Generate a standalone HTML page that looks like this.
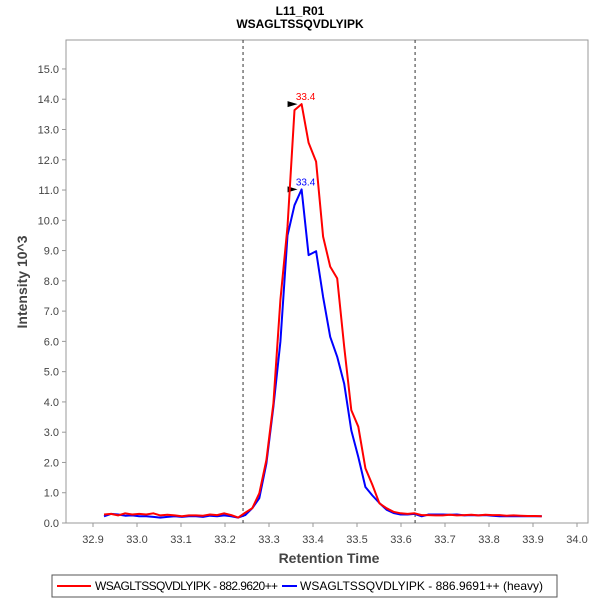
<!DOCTYPE html>
<html><head><meta charset="utf-8"><style>
body{margin:0;background:#fff;font-family:"Liberation Sans",sans-serif}
svg text{font-family:"Liberation Sans",sans-serif}
</style></head><body>
<svg id="c" width="600" height="600">
<text x="300" y="15" text-anchor="middle" font-size="12" font-weight="bold">L11_R01</text>
<text x="300" y="28" text-anchor="middle" font-size="12" font-weight="bold">WSAGLTSSQVDLYIPK</text>
<rect x="66" y="40" width="522" height="483" fill="#fff" stroke="#999"/>
<g id="axes"></g>
<g id="series"></g>
<text x="329" y="563" text-anchor="middle" font-size="14" font-weight="bold" fill="#444">Retention Time</text>
<text transform="translate(27,282) rotate(-90)" text-anchor="middle" font-size="14" font-weight="bold" fill="#444">Intensity 10^3</text>
<g>
<rect x="52" y="575" width="505" height="22" fill="#fff" stroke="#555"/>
<line x1="57" y1="586" x2="91" y2="586" stroke="#f00" stroke-width="2"/>
<text x="95" y="590" font-size="12" textLength="183">WSAGLTSSQVDLYIPK - 882.9620++</text>
<line x1="282" y1="586" x2="297" y2="586" stroke="#00f" stroke-width="2"/>
<text x="300" y="590" font-size="12">WSAGLTSSQVDLYIPK - 886.9691++ (heavy)</text>
</g>
</svg>
<script>
const times=[32.925,32.941,32.957,32.973,32.989,33.005,33.021,33.037,33.053,33.069,33.086,33.102,33.118,33.134,33.150,33.166,33.182,33.198,33.214,33.230,33.246,33.262,33.278,33.294,33.310,33.326,33.342,33.358,33.374,33.390,33.407,33.423,33.439,33.455,33.471,33.487,33.503,33.519,33.535,33.551,33.567,33.583,33.599,33.615,33.631,33.647,33.663,33.679,33.695,33.711,33.727,33.744,33.760,33.776,33.792,33.808,33.824,33.840,33.856,33.872,33.888,33.904,33.920];
const lightValues=[0.28,0.30,0.25,0.32,0.28,0.30,0.28,0.32,0.25,0.27,0.25,0.22,0.25,0.25,0.24,0.28,0.26,0.32,
0.26,0.18,0.34,0.49,0.98,2.08,3.95,7.37,9.79,13.64,13.84,12.56,11.94,9.46,8.47,8.08,5.82,3.73,3.18,1.81,1.26,0.65,0.49,0.37,0.32,0.30,0.32,0.26,
0.26,0.25,0.25,0.27,0.25,0.26,0.27,0.25,0.27,0.26,0.26,0.24,0.25,0.24,0.23,0.23,0.22];
const heavyValues=[0.22,0.30,0.28,0.24,0.25,0.22,0.22,0.20,0.18,0.20,0.22,0.20,0.22,0.22,0.20,0.24,0.22,0.25,
0.22,0.18,0.26,0.49,0.82,1.97,3.84,5.99,9.5,10.5,11.02,8.85,8.98,7.47,6.15,5.49,4.6,3.06,2.18,1.19,0.91,0.66,0.44,0.33,0.28,0.28,0.30,0.22,
0.28,0.28,0.28,0.27,0.28,0.25,0.26,0.25,0.26,0.24,0.22,0.22,0.22,0.22,0.22,0.22,0.22];
const xTicks=[32.9,33.0,33.1,33.2,33.3,33.4,33.5,33.6,33.7,33.8,33.9,34.0];
const yTicks=[0,1,2,3,4,5,6,7,8,9,10,11,12,13,14,15];
const boundaries=[33.241,33.632];
const peakLabels=["33.4","33.4"];
const NS="http://www.w3.org/2000/svg";
const X=t=>93+(t-32.9)*440;
const Y=v=>523-v*30.27;
function mk(tag,attrs,parent){const e=document.createElementNS(NS,tag);for(const k in attrs)e.setAttribute(k,attrs[k]);parent.appendChild(e);return e;}
const ax=document.getElementById('axes'), sg=document.getElementById('series');
xTicks.forEach(t=>{
 const l=mk('line',{x1:X(t),x2:X(t),y1:523,y2:527,stroke:'#999'},ax);
 
 
 const tx=mk('text',{x:X(t),y:543,'text-anchor':'middle','font-size':11,fill:'#444'},ax);tx.textContent=t.toFixed(1);
 
 
});
yTicks.forEach(v=>{
 const l=mk('line',{x1:62,x2:66,y1:Y(v),y2:Y(v),stroke:'#999'},ax);
 
 
 const tx=mk('text',{x:59,y:Y(v)+4,'text-anchor':'end','font-size':11,fill:'#444'},ax);tx.textContent=v.toFixed(1);
 
 
});
boundaries.forEach(b=>{
 const l=mk('line',{x1:X(b),x2:X(b),y1:40,y2:523,stroke:'#333','stroke-dasharray':'3,3'},ax);
 
 
});
function series(vals,color,name,idx){
 const pts=times.map((t,i)=>X(t).toFixed(1)+','+Y(vals[i]).toFixed(1)).join(' ');
 const p=mk('polyline',{points:pts,fill:'none',stroke:color,'stroke-width':2,'stroke-linejoin':'round'},sg);
 
 
 let m=0;vals.forEach((v,i)=>{if(v>vals[m])m=i;});
 const px=X(times[m]),py=Y(vals[m]);
 const tri=mk('polygon',{points:`${px-14},${py-3} ${px-14},${py+3} ${px-4},${py}`,fill:'#000'},sg);
 
 
 const tx=mk('text',{x:px+4,y:py-4,'text-anchor':'middle','font-size':10,fill:color},sg);tx.textContent=peakLabels[idx];
 
 
}
series(heavyValues,'#00f','heavy-series',1);
series(lightValues,'#f00','light-series',0);
</script>
</body></html>
